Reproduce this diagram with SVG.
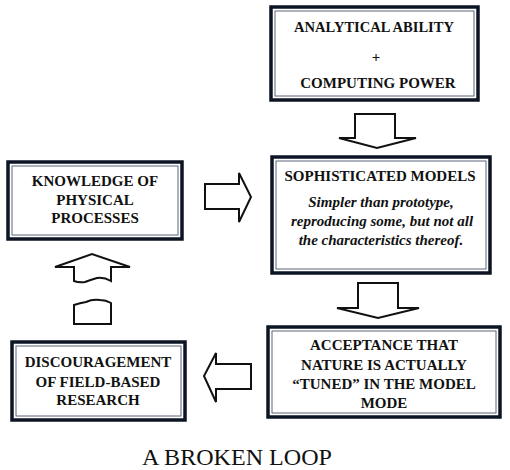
<svg xmlns="http://www.w3.org/2000/svg" width="510" height="470" viewBox="0 0 510 470">
<style>
.outer{fill:#fff;stroke:#0d1424;stroke-width:3.5}
.inner{fill:none;stroke:#5a6478;stroke-width:1}
.t{font-family:"Liberation Serif","Times New Roman",serif;font-weight:bold;font-size:15px;fill:#111;text-anchor:middle}
.it{font-family:"Liberation Serif","Times New Roman",serif;font-weight:bold;font-style:italic;font-size:15px;fill:#111;text-anchor:middle}
.arr{fill:#fff;stroke:#111;stroke-width:2;stroke-linejoin:miter}
.title{font-family:"Liberation Serif","Times New Roman",serif;font-size:24px;fill:#111;text-anchor:middle}
</style>
<rect width="510" height="470" fill="#fff"/>
<g id="connectors">
<path class="arr" d="M355,114 H395 V138 H416 L377,148 L339,138 H355 Z"/>
<path class="arr" d="M205,184 H239 V173 L251,197 L239,222 V209 H205 Z"/>
<path class="arr" d="M358,283 H398 V308 H419 L378,318 L337,308 H358 Z"/>
<path class="arr" d="M251,364 H216 V353 L204,376 L216,402 V389 H251 Z"/>
<path class="arr" d="M74,281 V267 H55 L92,254 L130,267 H111 V281 Q104,277 97,278 Q90,280 85,282 Q79,283 74,281 Z"/>
<path class="arr" d="M74,324 V305 Q80,303 86,302 Q92,299 100,300 Q106,300 111,303 V324 Z"/>
</g>
<g id="node-top">
<rect class="outer" x="271" y="7" width="207" height="93"/>
<rect class="inner" x="275" y="11" width="199" height="85"/>
<text class="t" x="374" y="32" textLength="160" lengthAdjust="spacingAndGlyphs">ANALYTICAL ABILITY</text>
<text class="t" x="376" y="62">+</text>
<text class="t" x="378" y="88">COMPUTING POWER</text>
</g>
<g id="node-knowledge">
<rect class="outer" x="8" y="162" width="174" height="77"/>
<rect class="inner" x="12" y="166" width="166" height="69"/>
<text class="t" x="95" y="186">KNOWLEDGE OF</text>
<text class="t" x="95" y="205">PHYSICAL</text>
<text class="t" x="95" y="223">PROCESSES</text>
</g>
<g id="node-models">
<rect class="outer" x="272" y="157" width="218" height="116"/>
<rect class="inner" x="276" y="161" width="210" height="108"/>
<text class="t" x="380" y="181">SOPHISTICATED MODELS</text>
<text class="it" x="381" y="207">Simpler than prototype,</text>
<text class="it" x="382" y="226">reproducing some, but not all</text>
<text class="it" x="381" y="245">the characteristics thereof.</text>
</g>
<g id="node-acceptance">
<rect class="outer" x="268" y="327" width="232" height="90"/>
<rect class="inner" x="272" y="331" width="224" height="82"/>
<text class="t" x="384" y="350">ACCEPTANCE THAT</text>
<text class="t" x="384" y="370">NATURE IS ACTUALLY</text>
<text class="t" x="384" y="389">“TUNED” IN THE MODEL</text>
<text class="t" x="384" y="408">MODE</text>
</g>
<g id="node-discouragement">
<rect class="outer" x="12" y="342" width="173" height="78"/>
<rect class="inner" x="16" y="346" width="165" height="70"/>
<text class="t" x="98" y="367">DISCOURAGEMENT</text>
<text class="t" x="98" y="387">OF FIELD-BASED</text>
<text class="t" x="98" y="405">RESEARCH</text>
</g>
<text class="title" x="237" y="465" textLength="190" lengthAdjust="spacingAndGlyphs">A BROKEN LOOP</text>
</svg>
